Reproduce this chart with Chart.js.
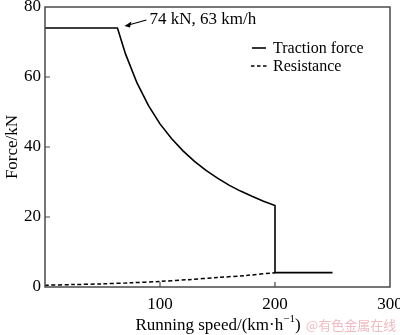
<!DOCTYPE html>
<html>
<head>
<meta charset="utf-8">
<script src="https://cdn.jsdelivr.net/npm/chart.js@4/dist/chart.umd.min.js"></script>
<style>
  html, body { margin: 0; padding: 0; background: #fff; }
  #wrap { width: 400px; height: 335px; }
</style>
</head>
<body>
<div id="wrap"><canvas id="forceChart" width="400" height="335"></canvas></div>
<script>
// traction force curve (km/h, kN)
let tractionSpeed = [0, 63, 70, 80, 90, 100, 110, 120, 130, 140, 150, 160, 170, 180, 190, 200, 200, 250];
let tractionForce = [74, 74, 66.6, 58.3, 51.8, 46.6, 42.4, 38.9, 35.9, 33.3, 31.1, 29.1, 27.4, 25.9, 24.5, 23.3, 4.1, 4.1];

// running resistance
let resistSpeed = [0, 25, 50, 75, 100, 125, 150, 175, 200];
let resistForce = [0.5, 0.7, 0.9, 1.2, 1.6, 2.1, 2.7, 3.3, 4.1];

let xTicks = [0, 100, 200, 300];
let yTicks = [0, 20, 40, 60, 80];

let cornerSpeed = 63;
let cornerForce = 74;

const serif = "'Liberation Serif', 'Times New Roman', serif";
const axisColor = "#4a4a4a";

function toPoints(xs, ys) {
    return xs.map((x, i) => ({ x: x, y: ys[i] }));
}

const framePlugin = {
    id: "frame",
    afterDraw(chart) {
        let c = chart.ctx;
        let a = chart.chartArea;
        let xs = chart.scales.x;
        let ys = chart.scales.y;
        c.save();

        // box + inward ticks
        c.strokeStyle = axisColor;
        c.lineWidth = 1.5;
        c.strokeRect(a.left, a.top, a.right - a.left, a.bottom - a.top);
        c.lineWidth = 1.2;
        c.beginPath();
        xTicks.slice(1, -1).forEach(v => {
            let px = xs.getPixelForValue(v);
            c.moveTo(px, a.bottom);
            c.lineTo(px, a.bottom - 5);
        });
        yTicks.slice(1, -1).forEach(v => {
            let py = ys.getPixelForValue(v);
            c.moveTo(a.left, py);
            c.lineTo(a.left + 5, py);
        });
        c.stroke();

        // annotation arrow
        let px = xs.getPixelForValue(cornerSpeed);
        let py = ys.getPixelForValue(cornerForce);
        let hx = px + 7, hy = py - 2;
        c.strokeStyle = "#000";
        c.fillStyle = "#000";
        c.lineWidth = 1.2;
        c.beginPath();
        c.moveTo(hx + 22, hy - 6);
        c.lineTo(hx + 4, hy - 1);
        c.stroke();
        c.beginPath();
        c.moveTo(hx, hy);
        c.lineTo(hx + 7, hy - 4.5);
        c.lineTo(hx + 5.5, hy + 1.5);
        c.closePath();
        c.fill();
        c.font = "17px " + serif;
        c.textBaseline = "middle";
        c.textAlign = "left";
        c.fillText("74 kN, 63 km/h", hx + 25, hy - 6);

        // legend
        c.font = "16px " + serif;
        c.lineWidth = 1.6;
        c.beginPath();
        c.moveTo(252, 48);
        c.lineTo(266, 48);
        c.stroke();
        c.setLineDash([3.5, 2.5]);
        c.lineWidth = 1.5;
        c.beginPath();
        c.moveTo(251, 66);
        c.lineTo(267, 66);
        c.stroke();
        c.setLineDash([]);
        c.fillText("Traction force", 273, 49);
        c.fillText("Resistance", 273, 67);

        // y title
        c.save();
        c.translate(13, 147);
        c.rotate(-Math.PI / 2);
        c.textAlign = "center";
        c.font = "17px " + serif;
        c.fillText("Force/kN", 0, 0);
        c.restore();

        // x title with superscript
        c.font = "17px " + serif;
        c.textAlign = "left";
        c.textBaseline = "alphabetic";
        let main = "Running speed/(km·h";
        let sup = "−1";
        let tail = ")";
        let w1 = c.measureText(main).width;
        c.font = "11px " + serif;
        let w2 = c.measureText(sup).width;
        c.font = "17px " + serif;
        let w3 = c.measureText(tail).width;
        let sx = 218 - (w1 + w2 + w3) / 2;
        c.fillText(main, sx, 330);
        c.font = "11px " + serif;
        c.fillText(sup, sx + w1, 322);
        c.font = "17px " + serif;
        c.fillText(tail, sx + w1 + w2, 330);

        // watermark
        c.font = "13px 'Noto Sans CJK SC', sans-serif";
        c.fillStyle = "rgba(225, 130, 140, 0.55)";
        c.fillText("@有色金属在线", 306, 330);
        c.restore();
    }
};

let ctx = document.getElementById("forceChart").getContext("2d");
let myChart = new Chart(ctx, {
    type: "line",
    data: {
        datasets: [
            {
                label: "Traction force",
                data: toPoints(tractionSpeed, tractionForce),
                borderColor: "#000",
                borderWidth: 1.6,
                pointRadius: 0,
                tension: 0,
                fill: false,
            },
            {
                label: "Resistance",
                data: toPoints(resistSpeed, resistForce),
                borderColor: "#000",
                borderWidth: 1.5,
                borderDash: [4, 2.5],
                pointRadius: 0,
                tension: 0.3,
                fill: false,
            },
        ],
    },
    options: {
        responsive: false,
        animation: false,
        devicePixelRatio: 1,
        layout: { padding: { top: 7, right: 10, left: 0, bottom: 0 } },
        plugins: {
            legend: { display: false },
            tooltip: { enabled: false },
        },
        scales: {
            x: {
                type: "linear",
                min: 0,
                max: 300,
                afterFit(scale) {
                    scale.height = 48;
                    scale.paddingLeft = 0;
                    scale.paddingRight = 0;
                },
                afterBuildTicks(scale) { scale.ticks = xTicks.map(v => ({ value: v })); },
                grid: { display: false, drawTicks: false },
                border: { display: false },
                ticks: {
                    color: "#000",
                    padding: 7,
                    maxRotation: 0,
                    font: { family: serif, size: 17 },
                    callback: v => (v === 0 ? "" : v),
                },
            },
            y: {
                min: 0,
                max: 80,
                afterFit(scale) {
                    scale.width = 45;
                    scale.paddingTop = 0;
                    scale.paddingBottom = 0;
                },
                afterBuildTicks(scale) { scale.ticks = yTicks.map(v => ({ value: v })); },
                grid: { display: false, drawTicks: false },
                border: { display: false },
                ticks: {
                    color: "#000",
                    padding: 4,
                    font: { family: serif, size: 17 },
                },
            },
        },
    },
    plugins: [framePlugin],
});
</script>
</body>
</html>
